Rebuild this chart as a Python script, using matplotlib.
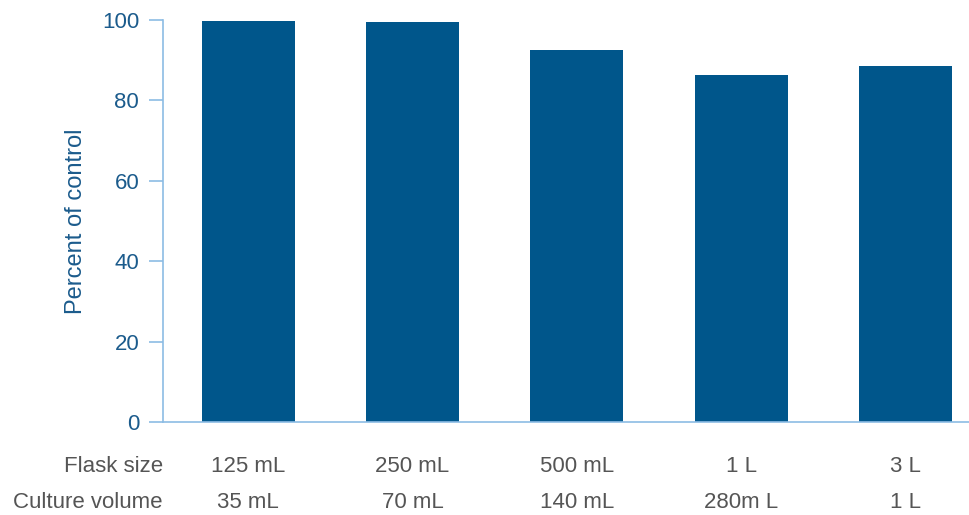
import matplotlib
matplotlib.use("Agg")
from matplotlib import pyplot as plt

# Данные
flask_sizes = ["125 mL", "250 mL", "500 mL", "1 L", "3 L"]
culture_volumes = ["35 mL", "70 mL", "140 mL", "280m L", "1 L"]
percent_of_control = [99.6, 99.3, 92.4, 86.2, 88.4]

bar_color = "#00568B"
text_blue = "#1B5B8C"
spine_color = "#8CBCE4"
gray = "#555555"

plt.rcParams['font.family'] = ['Liberation Sans', 'DejaVu Sans']

fig = plt.figure(figsize=(9.69, 5.15), dpi=100)
ax = fig.add_axes([0.168, 0.1806, 0.832, 0.7814])

x = list(range(len(flask_sizes)))
ax.bar(x, percent_of_control, width=0.566, color=bar_color, zorder=2)

ax.set_xlim(-0.52, 4.387)
ax.set_ylim(0, 100)
ax.set_yticks([0, 20, 40, 60, 80, 100])
ax.set_xticks([])

for side in ["top", "right"]:
    ax.spines[side].set_visible(False)
for side in ["left", "bottom"]:
    ax.spines[side].set_color(spine_color)
    ax.spines[side].set_linewidth(1.2)

ax.tick_params(axis="y", direction="out", length=10, width=1.2, color=spine_color,
               labelsize=16, labelcolor=text_blue, pad=7)
ax.set_ylabel("Percent of control", fontsize=17, color=text_blue, labelpad=11)

# Подписи под осью
trans = ax.get_xaxis_transform()
row1_y = -0.11
row2_y = -0.2
for i in x:
    ax.text(i, row1_y, flask_sizes[i], transform=trans, ha="center", va="center",
            fontsize=16, color=gray)
    ax.text(i, row2_y, culture_volumes[i], transform=trans, ha="center", va="center",
            fontsize=16, color=gray)
ax.text(0.0, row1_y, "Flask size", transform=ax.transAxes, ha="right", va="center",
        fontsize=16, color=gray)
ax.text(0.0, row2_y, "Culture volume", transform=ax.transAxes, ha="right", va="center",
        fontsize=16, color=gray)

fig.savefig("out.png", dpi=100)
